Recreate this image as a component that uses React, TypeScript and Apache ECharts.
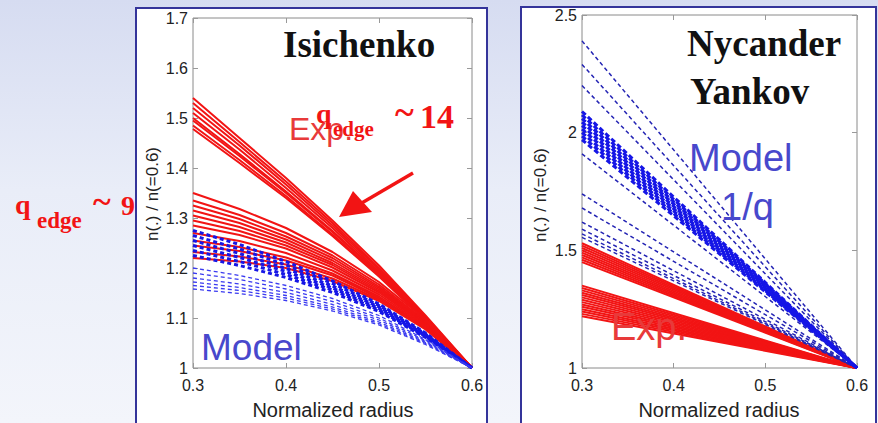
import React, { useEffect, useRef } from "react";
import * as echarts from "echarts";

// ---------- data ----------
const X_LEFT = [0.3, 0.35, 0.4, 0.45, 0.5, 0.55, 0.6];
const X_RIGHT = [0.3, 0.6];
const X_TICKS = ["0.3", "0.4", "0.5", "0.6"];

// Isichenko panel: experiment, q_edge ~14 (upper red bundle)
const isiExpHigh = [
  [1.54, 1.46, 1.38, 1.295, 1.205, 1.105, 1.0],
  [1.53, 1.452, 1.373, 1.29, 1.2, 1.103, 1.0],
  [1.52, 1.445, 1.367, 1.285, 1.197, 1.101, 1.0],
  [1.51, 1.437, 1.36, 1.28, 1.193, 1.1, 1.0],
  [1.5, 1.428, 1.353, 1.274, 1.19, 1.098, 1.0],
  [1.495, 1.424, 1.35, 1.272, 1.188, 1.097, 1.0],
  [1.485, 1.416, 1.344, 1.267, 1.185, 1.096, 1.0],
  [1.478, 1.41, 1.34, 1.264, 1.183, 1.095, 1.0],
];
// Isichenko panel: experiment, q_edge ~9 (lower red bundle)
const isiExpLow = [
  [1.35, 1.318, 1.28, 1.232, 1.172, 1.097, 1.0],
  [1.335, 1.306, 1.27, 1.225, 1.167, 1.094, 1.0],
  [1.325, 1.298, 1.263, 1.22, 1.163, 1.092, 1.0],
  [1.315, 1.29, 1.257, 1.215, 1.16, 1.09, 1.0],
  [1.305, 1.282, 1.251, 1.21, 1.157, 1.089, 1.0],
  [1.295, 1.274, 1.245, 1.206, 1.154, 1.087, 1.0],
  [1.285, 1.266, 1.239, 1.201, 1.151, 1.086, 1.0],
  [1.27, 1.254, 1.23, 1.195, 1.147, 1.084, 1.0],
  [1.255, 1.242, 1.221, 1.189, 1.143, 1.082, 1.0],
  [1.245, 1.234, 1.215, 1.185, 1.14, 1.081, 1.0],
  [1.232, 1.223, 1.207, 1.179, 1.137, 1.079, 1.0],
  [1.22, 1.213, 1.2, 1.174, 1.134, 1.077, 1.0],
];
// Isichenko panel: model (blue dashed), dense part
const isiModelDense = [
  [1.275, 1.247, 1.213, 1.174, 1.128, 1.07, 1.0],
  [1.265, 1.238, 1.206, 1.169, 1.125, 1.068, 1.0],
  [1.255, 1.229, 1.199, 1.164, 1.122, 1.066, 1.0],
  [1.245, 1.221, 1.193, 1.16, 1.119, 1.064, 1.0],
  [1.235, 1.213, 1.187, 1.156, 1.116, 1.063, 1.0],
  [1.225, 1.205, 1.181, 1.151, 1.113, 1.061, 1.0],
];
// Isichenko panel: model (blue dashed), light part
const isiModelLight = [
  [1.2, 1.185, 1.165, 1.139, 1.105, 1.057, 1.0],
  [1.19, 1.177, 1.158, 1.133, 1.1, 1.055, 1.0],
  [1.18, 1.168, 1.151, 1.127, 1.096, 1.053, 1.0],
  [1.172, 1.161, 1.145, 1.122, 1.092, 1.051, 1.0],
  [1.165, 1.155, 1.14, 1.118, 1.089, 1.049, 1.0],
  [1.158, 1.149, 1.135, 1.114, 1.086, 1.047, 1.0],
];

// Nycander-Yankov panel: experiment (straight red lines)
const nyExpHigh = [
  [1.53, 1.0], [1.52, 1.0], [1.51, 1.0], [1.5, 1.0], [1.49, 1.0],
  [1.48, 1.0], [1.47, 1.0], [1.46, 1.0], [1.45, 1.0],
];
const nyExpLow = [
  [1.35, 1.0], [1.34, 1.0], [1.33, 1.0], [1.32, 1.0], [1.31, 1.0],
  [1.3, 1.0], [1.29, 1.0], [1.28, 1.0], [1.27, 1.0], [1.26, 1.0],
  [1.25, 1.0], [1.24, 1.0], [1.23, 1.0], [1.22, 1.0],
];
// Nycander-Yankov panel: model 1/q (blue dashed)
const nyModelSparse = [
  [2.39, 1.0], [2.29, 1.0], [2.2, 1.0], [1.91, 1.0], [1.74, 1.0],
  [1.68, 1.0], [1.62, 1.0], [1.59, 1.0], [1.57, 1.0], [1.555, 1.0],
];
const nyModelDense = [
  [2.09, 1.0], [2.075, 1.0], [2.06, 1.0], [2.045, 1.0], [2.03, 1.0],
  [2.015, 1.0], [2.0, 1.0], [1.985, 1.0], [1.97, 1.0],
];

// ---------- styles ----------
const RED = "#f21414";
const BLUE = "#1616e6";
const NAVY = "#2424b4";

function lines(
  set: number[][],
  xs: number[],
  axis: number,
  color: string,
  width: number,
  dashed: number[] | null,
  z: number
) {
  return set.map((ys) => ({
    type: "line",
    xAxisIndex: axis,
    yAxisIndex: axis,
    data: xs.map((x, i) => [x, ys[i]]),
    symbol: "none",
    silent: true,
    z,
    lineStyle: { color, width, type: dashed ? dashed : "solid" },
  }));
}

const tickLabel = {
  color: "#222",
  fontSize: 16,
  fontFamily: "Liberation Sans, Arial, sans-serif",
};

function xAxis(gridIndex: number, position: string, labels: boolean) {
  return {
    type: "value",
    gridIndex,
    position,
    min: 0.3,
    max: 0.6,
    interval: 0.1,
    axisLine: { show: false },
    splitLine: { show: false },
    axisTick: { show: true, inside: true, length: 5, lineStyle: { color: "#999" } },
    axisLabel: {
      show: labels,
      margin: 9,
      ...tickLabel,
      formatter: (v: number) => X_TICKS[Math.round((v - 0.3) * 10)] ?? "",
    },
  };
}

function yAxis(
  gridIndex: number,
  position: string,
  labels: boolean,
  max: number,
  interval: number
) {
  return {
    type: "value",
    gridIndex,
    position,
    min: 1,
    max,
    interval,
    axisLine: { show: false },
    splitLine: { show: false },
    axisTick: { show: true, inside: true, length: 5, lineStyle: { color: "#999" } },
    axisLabel: {
      show: labels,
      margin: 5,
      ...tickLabel,
      formatter: (v: number) => String(Math.round(v * 10) / 10),
    },
  };
}

const SERIF = "Liberation Serif, Times New Roman, serif";
const SANS = "Liberation Sans, Arial, sans-serif";

function txt(
  text: string,
  x: number,
  y: number,
  size: number,
  color: string,
  family: string,
  weight: string = "normal",
  align: string = "left",
  rotation: number = 0
) {
  return {
    type: "text",
    x,
    y,
    rotation,
    z: 100,
    silent: true,
    style: {
      text,
      fill: color,
      font: `${weight} ${size}px ${family}`,
      textAlign: align,
      textVerticalAlign: "middle",
    },
  };
}

export default function App() {
  const ref = useRef<HTMLDivElement>(null);

  useEffect(() => {
    if (!ref.current) return;
    const chart = echarts.init(ref.current, null, { renderer: "svg" });

    const series = [
      ...lines(isiExpHigh, X_LEFT, 0, RED, 2, null, 3),
      ...lines(isiExpLow, X_LEFT, 0, RED, 2, null, 3),
      ...lines(isiModelDense, X_LEFT, 0, BLUE, 3, [4, 3], 4),
      ...lines(isiModelLight, X_LEFT, 0, "#3a3af0", 1.3, [4, 3], 4),
      ...lines(nyExpHigh, X_RIGHT, 1, RED, 2, null, 3),
      ...lines(nyExpLow, X_RIGHT, 1, RED, 2, null, 3),
      ...lines(nyModelSparse, X_RIGHT, 1, NAVY, 1.5, [4, 3], 4),
      ...lines(nyModelDense, X_RIGHT, 1, BLUE, 3, [5, 3], 4),
    ];

    const graphic = [
      // panel frames
      {
        type: "rect",
        z: -1,
        silent: true,
        shape: { x: 136, y: 8, width: 351, height: 420 },
        style: { fill: "#ffffff", stroke: "#34349a", lineWidth: 2 },
      },
      {
        type: "rect",
        z: -1,
        silent: true,
        shape: { x: 521, y: 7, width: 355, height: 420 },
        style: { fill: "#ffffff", stroke: "#34349a", lineWidth: 2 },
      },
      // titles
      txt("Isichenko", 283, 44, 37, "#111", SERIF, "bold"),
      txt("Nycander", 687, 43, 37, "#111", SERIF, "bold"),
      txt("Yankov", 690, 91, 37, "#111", SERIF, "bold"),
      // left annotations
      txt("Model", 201, 347, 37, "#4848cc", SANS),
      txt("Exp.", 289, 129, 32, "#e83a3a", SANS),
      txt("q", 316, 113, 28, RED, SERIF, "bold"),
      txt("edge", 333, 129, 21, RED, SERIF, "bold"),
      txt("~", 395, 112, 36, RED, SERIF, "bold"),
      txt("14", 420, 116, 34, RED, SERIF, "bold"),
      txt("q", 15, 204, 28, RED, SERIF, "bold"),
      txt("edge", 37, 220, 23, RED, SERIF, "bold"),
      txt("~", 93, 201, 34, RED, SERIF, "bold"),
      txt("9", 121, 205, 28, RED, SERIF, "bold"),
      // arrow
      {
        type: "line",
        z: 100,
        silent: true,
        shape: { x1: 413, y1: 173, x2: 360, y2: 204 },
        style: { stroke: RED, lineWidth: 3.5 },
      },
      {
        type: "polygon",
        z: 100,
        silent: true,
        shape: { points: [[339, 217], [353, 191], [372, 212]] },
        style: { fill: RED },
      },
      // right annotations
      txt("Model", 689, 158, 38, "#4848cc", SANS),
      txt("1/q", 721, 207, 38, "#4848cc", SANS),
      txt("Exp.", 611, 327, 38, "#e83a3a", SANS),
      // axis names
      txt("n(.) / n(=0.6)", 152, 194, 17, "#222", SANS, "normal", "center", Math.PI / 2),
      txt("n(.) / n(=0.6)", 540, 195, 17, "#222", SANS, "normal", "center", Math.PI / 2),
      txt("Normalized radius", 333, 410, 20, "#222", SANS, "normal", "center"),
      txt("Normalized radius", 719, 410, 20, "#222", SANS, "normal", "center"),
    ];

    chart.setOption({
      animation: false,
      backgroundColor: "transparent",
      grid: [
        { left: 193, top: 18, width: 279, height: 350, show: true, borderColor: "#8a8a8a", borderWidth: 1, backgroundColor: "transparent" },
        { left: 582, top: 15, width: 275, height: 353, show: true, borderColor: "#8a8a8a", borderWidth: 1, backgroundColor: "transparent" },
      ],
      xAxis: [
        xAxis(0, "bottom", true),
        xAxis(1, "bottom", true),
        xAxis(0, "top", false),
        xAxis(1, "top", false),
      ],
      yAxis: [
        yAxis(0, "left", true, 1.7, 0.1),
        yAxis(1, "left", true, 2.5, 0.5),
        yAxis(0, "right", false, 1.7, 0.1),
        yAxis(1, "right", false, 2.5, 0.5),
      ],
      graphic,
      series,
    });

    return () => chart.dispose();
  }, []);

  return (
    <div
      style={{
        position: "fixed",
        left: 0,
        top: 0,
        width: 878,
        height: 423,
        background: "linear-gradient(180deg, #d6dcf1 0%, #e9edf8 45%, #f3f5fb 100%)",
      }}
    >
      <div ref={ref} style={{ width: 878, height: 423 }} />
    </div>
  );
}
